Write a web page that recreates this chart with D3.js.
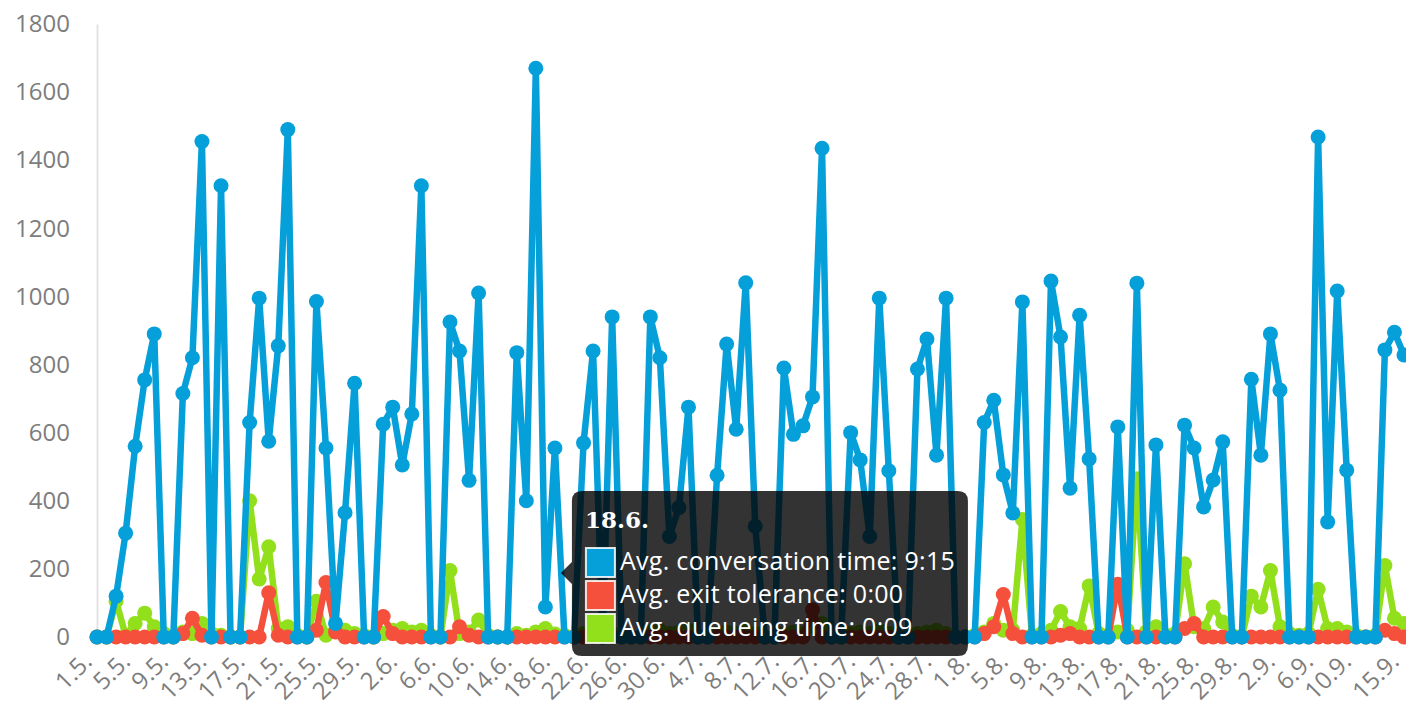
<!DOCTYPE html>
<html>
<head>
<meta charset="utf-8">
<script src="https://cdn.jsdelivr.net/npm/d3@7"></script>
<style>
  body { margin: 0; background: #fff; overflow: hidden; }
  svg { display: block; }
  .axis text { font-family: "Open Sans", sans-serif; font-size: 24px; fill: #7d7d7d; }
</style>
</head>
<body>
<div id="chart"></div>
<script>
// daily averages in seconds, 1.5. - 15.9.
const conversationTime = [
  0, 0, 120, 305, 560, 755, 890, 0, 0, 715,
  820, 1455, 0, 1325, 0, 0, 630, 995, 575, 855,
  1490, 0, 0, 985, 555, 40, 365, 745, 0, 0,
  625, 675, 505, 655, 1325, 0, 0, 925, 840, 460,
  1010, 0, 0, 0, 835, 400, 1670, 88, 555, 0,
  0, 570, 840, 0, 940, 0, 0, 0, 940, 820,
  295, 380, 675, 0, 0, 475, 860, 610, 1040, 325,
  0, 0, 790, 595, 620, 705, 1435, 0, 0, 600,
  520, 295, 995, 488, 0, 0, 787, 875, 534, 995,
  0, 0, 0, 630, 695, 476, 364, 984, 0, 0,
  1045, 881, 437, 945, 523, 0, 0, 617, 0, 1039,
  0, 564, 0, 0, 622, 555, 382, 461, 573, 0,
  0, 757, 534, 890, 725, 0, 0, 0, 1468, 338,
  1016, 490, 0, 0, 0, 843, 895, 828
];
const exitTolerance = [
  0, 0, 0, 0, 0, 0, 0, 0, 0, 10,
  55, 5, 0, 0, 0, 0, 0, 0, 130, 5,
  0, 0, 0, 20, 160, 15, 0, 0, 0, 0,
  60, 10, 0, 0, 0, 0, 0, 0, 30, 5,
  0, 0, 0, 0, 0, 0, 0, 0, 0, 0,
  0, 0, 0, 0, 0, 0, 0, 0, 0, 0,
  0, 0, 0, 0, 0, 0, 0, 0, 0, 0,
  0, 0, 0, 0, 0, 80, 0, 0, 0, 0,
  0, 0, 0, 0, 0, 0, 0, 0, 0, 0,
  0, 0, 0, 10, 30, 125, 10, 0, 0, 0,
  0, 5, 10, 0, 0, 0, 0, 155, 0, 0,
  0, 0, 0, 0, 25, 40, 0, 0, 0, 0,
  0, 0, 0, 0, 0, 0, 0, 0, 0, 0,
  0, 0, 0, 0, 0, 20, 10, 0
];
const queueingTime = [
  0, 0, 105, 5, 40, 70, 30, 10, 0, 15,
  10, 40, 10, 5, 0, 0, 400, 170, 265, 25,
  30, 5, 0, 105, 5, 20, 20, 10, 5, 0,
  10, 20, 25, 15, 20, 5, 0, 195, 10, 15,
  50, 5, 0, 0, 10, 5, 15, 25, 9, 5,
  0, 10, 15, 0, 10, 5, 0, 0, 15, 20,
  10, 15, 20, 0, 5, 10, 15, 10, 20, 10,
  0, 0, 10, 15, 10, 30, 40, 5, 0, 10,
  15, 10, 20, 10, 0, 5, 10, 15, 20, 10,
  0, 0, 5, 15, 40, 20, 20, 345, 5, 10,
  20, 75, 30, 25, 150, 10, 5, 15, 20, 465,
  15, 30, 5, 10, 215, 30, 25, 88, 44, 5,
  0, 120, 88, 195, 30, 10, 5, 10, 140, 25,
  25, 15, 5, 0, 5, 210, 55, 40
];

const seriesNames = ['Avg. conversation time', 'Avg. exit tolerance', 'Avg. queueing time'];
const seriesColors = ['#059fd9', '#f5503c', '#92df1c'];

const yTicks = [0, 200, 400, 600, 800, 1000, 1200, 1400, 1600, 1800];
const tickDays = [0, 4, 8, 12, 16, 20, 24, 28, 32, 36, 40, 44, 48, 52, 56, 60, 64, 68,
  72, 76, 80, 84, 88, 92, 96, 100, 104, 108, 112, 116, 120, 124, 128, 132, 137];
const tickLabels = ['1.5.', '5.5.', '9.5.', '13.5.', '17.5.', '21.5.', '25.5.', '29.5.',
  '2.6.', '6.6.', '10.6.', '14.6.', '18.6.', '22.6.', '26.6.', '30.6.', '4.7.', '8.7.',
  '12.7.', '16.7.', '20.7.', '24.7.', '28.7.', '1.8.', '5.8.', '9.8.', '13.8.', '17.8.',
  '21.8.', '25.8.', '29.8.', '2.9.', '6.9.', '10.9.', '15.9.'];

const hoverDay = 48; // 18.6.

class LineChart {

  constructor(_config, _data) {
    this.config = {
      parentElement: _config.parentElement,
      width: 1406,
      height: 709,
      left: 97,
      top: 24,
      bottom: 637,
      step: 9.54
    }
    this.data = _data;
    this.initVis();
  }

  initVis() {
    let vis = this;

    vis.svg = d3.select(vis.config.parentElement).append('svg')
      .attr('width', vis.config.width)
      .attr('height', vis.config.height);

    const nDays = vis.data[0].values.length;
    vis.x = d3.scaleLinear()
      .domain([0, nDays - 1])
      .range([vis.config.left, vis.config.left + (nDays - 1) * vis.config.step]);

    vis.y = d3.scaleLinear()
      .domain([0, 1800])
      .range([vis.config.bottom, vis.config.top]);

    vis.yAxis = d3.axisLeft(vis.y)
      .tickValues(yTicks)
      .tickFormat(d3.format('d'))
      .tickSize(0)
      .tickSizeOuter(0)
      .tickPadding(27);

    vis.xAxis = d3.axisBottom(vis.x)
      .tickValues(tickDays)
      .tickFormat((d, i) => tickLabels[i])
      .tickSize(0)
      .tickSizeOuter(0);

    vis.renderVis();
  }

  renderVis() {
    let vis = this;

    const yG = vis.svg.append('g')
      .attr('class', 'axis')
      .attr('transform', `translate(${vis.config.left},0)`)
      .call(vis.yAxis);
    yG.select('.domain').attr('stroke', '#e3e3e3').attr('stroke-width', 2);

    const xG = vis.svg.append('g')
      .attr('class', 'axis')
      .attr('transform', `translate(0,${vis.config.bottom})`)
      .call(vis.xAxis);
    xG.select('.domain').remove();
    // rotated labels, kept inside the bottom edge
    xG.selectAll('text')
      .attr('x', 0)
      .attr('y', 0)
      .attr('dy', 0)
      .attr('text-anchor', 'end')
      .attr('transform', 'translate(-4,26) rotate(-45)');

    const line = d3.line()
      .x((d, i) => vis.x(i))
      .y(d => vis.y(d));

    // queueing first, then exit tolerance, conversation on top
    const drawOrder = [2, 1, 0];
    drawOrder.forEach(k => {
      const s = vis.data[k];
      const g = vis.svg.append('g');
      g.append('path')
        .datum(s.values)
        .attr('fill', 'none')
        .attr('stroke', s.color)
        .attr('stroke-width', 6.5)
        .attr('stroke-linejoin', 'round')
        .attr('d', line);
      g.selectAll('circle')
        .data(s.values)
        .join('circle')
        .attr('cx', (d, i) => vis.x(i))
        .attr('cy', d => vis.y(d))
        .attr('r', 7.5)
        .attr('fill', s.color);
    });

    vis.drawTooltip(hoverDay);
  }

  drawTooltip(day) {
    let vis = this;
    const fmt = s => Math.floor(s / 60) + ':' + String(Math.round(s % 60)).padStart(2, '0');

    const tipX = vis.x(day) + 6;
    const tipY = vis.y(0) - 64;
    const left = tipX + 11, top = tipY - 82, w = 396, h = 165, r = 10;

    const p = d3.path();
    p.moveTo(left + r, top);
    p.lineTo(left + w - r, top);
    p.quadraticCurveTo(left + w, top, left + w, top + r);
    p.lineTo(left + w, top + h - r);
    p.quadraticCurveTo(left + w, top + h, left + w - r, top + h);
    p.lineTo(left + r, top + h);
    p.quadraticCurveTo(left, top + h, left, top + h - r);
    p.lineTo(left, tipY + 11);
    p.lineTo(tipX, tipY);
    p.lineTo(left, tipY - 11);
    p.lineTo(left, top + r);
    p.quadraticCurveTo(left, top, left + r, top);
    p.closePath();

    const tip = vis.svg.append('g');
    tip.append('path')
      .attr('d', p.toString())
      .attr('fill', 'rgba(0,0,0,0.8)');

    tip.append('text')
      .attr('x', left + 13)
      .attr('y', top + 37)
      .attr('fill', '#fff')
      .style('font-family', '"DejaVu Serif", serif')
      .style('font-weight', 'bold')
      .style('font-size', '23px')
      .text(d3.timeFormat('%-d.%-m.')(d3.timeDay.offset(new Date(2020, 4, 1), day)));

    const rows = tip.selectAll('g.row')
      .data(vis.data)
      .join('g')
      .attr('class', 'row')
      .attr('transform', (d, i) => `translate(${left + 14},${top + 57 + i * 33})`);

    rows.append('rect')
      .attr('width', 29)
      .attr('height', 29)
      .attr('fill', d => d.color)
      .attr('stroke', 'rgba(255,255,255,0.85)')
      .attr('stroke-width', 2);

    rows.append('text')
      .attr('x', 34)
      .attr('y', 22)
      .attr('fill', '#fff')
      .style('font-family', '"Open Sans", sans-serif')
      .style('font-size', '25px')
      .style('letter-spacing', '0.3px')
      .text(d => `${d.name}: ${fmt(d.values[day])}`);
  }
}

const chartData = [conversationTime, exitTolerance, queueingTime].map((values, i) => ({
  name: seriesNames[i],
  color: seriesColors[i],
  values: values
}));

new LineChart({ parentElement: '#chart' }, chartData);
</script>
</body>
</html>
